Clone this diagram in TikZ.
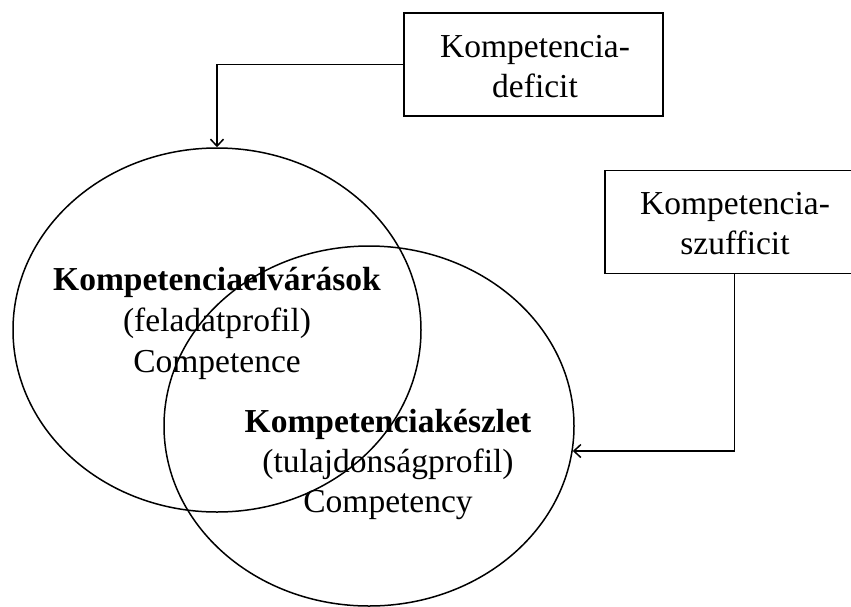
\documentclass[tikz,border=0pt]{standalone}
\usepackage{fontspec}
\setmainfont{Liberation Serif}
\usetikzlibrary{shapes.geometric,arrows.meta}
\begin{document}
\begin{tikzpicture}[x=1pt,y=-1pt,
  line width=1.5pt,
  txt/.style={font=\fontsize{33.5}{40}\selectfont, inner sep=0pt, anchor=base},
  boxnode/.style={draw, minimum width=259pt, minimum height=103pt, align=center, inner sep=0pt, font=\fontsize{33.5}{40}\selectfont},
  boxtext/.style={align=center, inner sep=0pt, font=\fontsize{33.5}{40}\selectfont},
  ell/.style={draw, ellipse, inner sep=0pt},
  arr/.style={-{Straight Barb[length=7pt,width=13pt]}}]
\useasboundingbox (0,0) rectangle (851,606);
\node[ell, minimum width=408pt, minimum height=364pt] (e1) at (217,330) {};
\node[ell, minimum width=410pt, minimum height=360pt] (e2) at (369,426) {};
\node[boxnode] (b1) at (533.5,64.5) {};
\node[boxnode] (b2) at (734.5,222) {};
\node[boxtext] (b1t) at (535,67) {Kompetencia-\\deficit};
\node[boxtext] (b2t) at (735,224) {Kompetencia-\\szufficit};
\node[txt] (t1) at (217,290) {\bfseries Kompetenciaelvárások};
\node[txt] (t2) at (217,331) {(feladatprofil)};
\node[txt] (t3) at (217,372) {Competence};
\node[txt] (t4) at (388,432) {\bfseries Kompetenciakészlet};
\node[txt] (t5) at (388,472) {(tulajdonságprofil)};
\node[txt] (t6) at (388,512) {Competency};
\draw[arr] (b1.west) -| (e1.north);
\draw[arr] (b2.south) |- (e2.-7.6);
\end{tikzpicture}
\end{document}
